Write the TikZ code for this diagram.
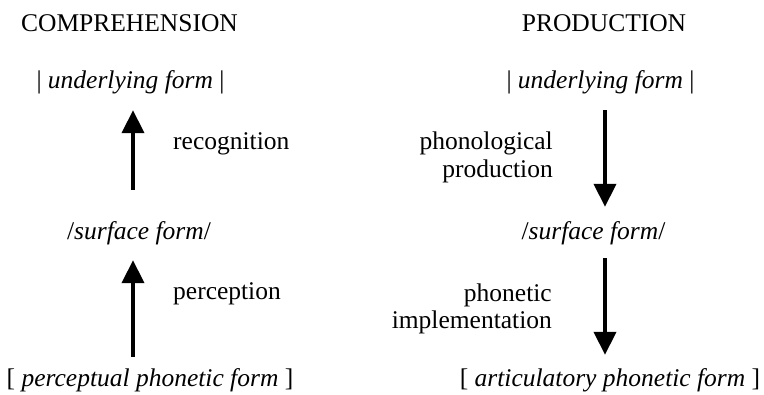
\documentclass[tikz,border=0pt]{standalone}
\usepackage{fontspec}
\setmainfont{LiberationSerif}[
  Extension=.ttf,
  UprightFont=*-Regular,
  ItalicFont=*-Italic,
  BoldFont=*-Bold,
  BoldItalicFont=*-BoldItalic]
\usetikzlibrary{arrows.meta}

\begin{document}
\begin{tikzpicture}[x=1pt,y=-1pt,
  every node/.style={inner sep=0pt, font=\rmfamily\fontsize{25.5pt}{28pt}\selectfont},
  form/.style={anchor=base, text height=18pt, text depth=6pt},
  lbl/.style={anchor=base west},
  lblr/.style={anchor=base east},
  flow/.style={line width=4pt, -{Triangle[width=22pt,length=23pt]}}]
\useasboundingbox (0,0) rectangle (764,395);

% column headings
\node[anchor=base] (hc) at (129.5,32) {COMPREHENSION};
\node[anchor=base] (hp) at (604,32) {PRODUCTION};

% comprehension column
\node[form] (ulL) at (130.5,89) {| \textit{underlying form} |};
\node[form] (sfL) at (139,240) {/\textit{surface form}/};
\node[form] (pfL) at (150,387) {[ \textit{perceptual phonetic form} ]};
\coordinate (xL) at (133,0);

\node[lbl] (rec) at (173,150) {recognition};
\node[lbl] (per) at (173,300) {perception};

\draw[flow, shorten <=32pt, shorten >=15pt] (sfL.north -| xL) -- (ulL.south -| xL);
\draw[flow, shorten <=12pt, shorten >=14pt] (pfL.north -| xL) -- (sfL.south -| xL);

% production column
\node[form] (ulR) at (600.5,89) {| \textit{underlying form} |};
\node[form] (sfR) at (593.5,240) {/\textit{surface form}/};
\node[form] (afR) at (610,387) {[ \textit{articulatory phonetic form} ]};
\coordinate (xR) at (605,0);

\node[lblr] (php1) at (553,150) {phonological};
\node[lblr] (php2) at (553,178) {production};
\node[lblr] (pi1) at (552,302) {phonetic};
\node[lblr] (pi2) at (552,329) {implementation};

\draw[flow, shorten <=15pt, shorten >=15pt] (ulR.south -| xR) -- (sfR.north -| xR);
\draw[flow, shorten <=12pt, shorten >=14pt] (sfR.south -| xR) -- (afR.north -| xR);
\end{tikzpicture}
\end{document}
